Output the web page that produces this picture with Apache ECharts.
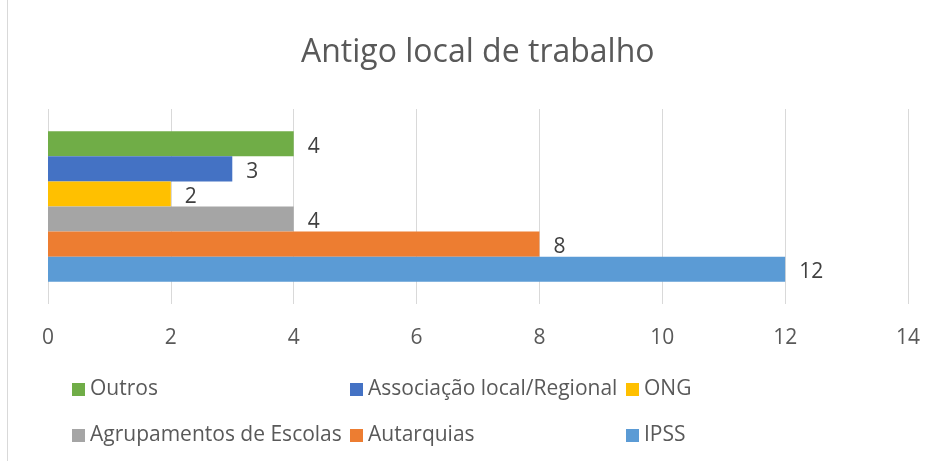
<!DOCTYPE html>
<html>
<head>
<meta charset="utf-8">
<script src="https://cdn.jsdelivr.net/npm/echarts@6/dist/echarts.min.js"></script>
<style>
  html, body { margin: 0; padding: 0; background: #fff; }
  #chart { width: 937px; height: 461px; }
</style>
</head>
<body>
<div id="chart"></div>
<script>
// dados do gráfico (de cima para baixo)
var categorias = ['Antigo local'];
var nomes = ['Outros', 'Associação local/Regional', 'ONG', 'Agrupamentos de Escolas', 'Autarquias', 'IPSS'];
var valores = [4, 3, 2, 4, 8, 12];
var cores = ['#70AD47', '#4472C4', '#FFC000', '#A5A5A5', '#ED7D31', '#5B9BD5'];
var ticks = [0, 2, 4, 6, 8, 10, 12, 14];

var fonte = '"Open Sans", sans-serif';

// séries
var series = nomes.map(function (nome, i) {
    return {
        name: nome,
        type: 'bar',
        data: [valores[i]],
        barGap: 0,
        barCategoryGap: '22.7%',
        itemStyle: { color: cores[i] },
        label: {
            show: true,
            position: 'right',
            distance: 14,
            offset: [0, 3],
            fontFamily: fonte,
            fontSize: 21,
            color: '#404040'
        }
    };
});

// legendas em duas linhas, três colunas
var posLegenda = [[72, 378], [350, 378], [626, 378], [72, 424], [350, 424], [626, 424]];
var legendas = nomes.map(function (nome, i) {
    return {
        data: [nome],
        left: posLegenda[i][0],
        top: posLegenda[i][1],
        padding: 0,
        itemWidth: 13,
        itemHeight: 13,
        icon: 'rect',
        textStyle: { fontFamily: fonte, fontSize: 21, color: '#595959', lineHeight: 23 }
    };
});

var myChart = echarts.init(document.getElementById('chart'));
var option = {
    animation: false,
    backgroundColor: '#fff',
    title: {
        text: 'Antigo local de trabalho',
        left: 301,
        top: 37,
        padding: 0,
        textStyle: { fontFamily: fonte, fontSize: 32, fontWeight: 'normal', color: '#595959' }
    },
    legend: legendas,
    grid: { left: 48, right: 29, top: 109, height: 195 },
    xAxis: {
        type: 'value',
        min: ticks[0],
        max: ticks[ticks.length - 1],
        interval: 2,
        axisLine: { show: false },
        axisTick: { show: false },
        splitLine: { lineStyle: { color: '#d9d9d9', width: 1 } },
        axisLabel: { fontFamily: fonte, fontSize: 21, color: '#595959', margin: 24 }
    },
    yAxis: {
        type: 'category',
        data: categorias,
        axisLine: { show: false },
        axisTick: { show: false },
        axisLabel: { show: false }
    },
    graphic: [{
        type: 'line',
        shape: { x1: 7.5, y1: 0, x2: 7.5, y2: 461 },
        style: { stroke: '#d9d9d9', lineWidth: 1 }
    }],
    series: series
};
myChart.setOption(option);
window.onresize = myChart.resize;
</script>
</body>
</html>
